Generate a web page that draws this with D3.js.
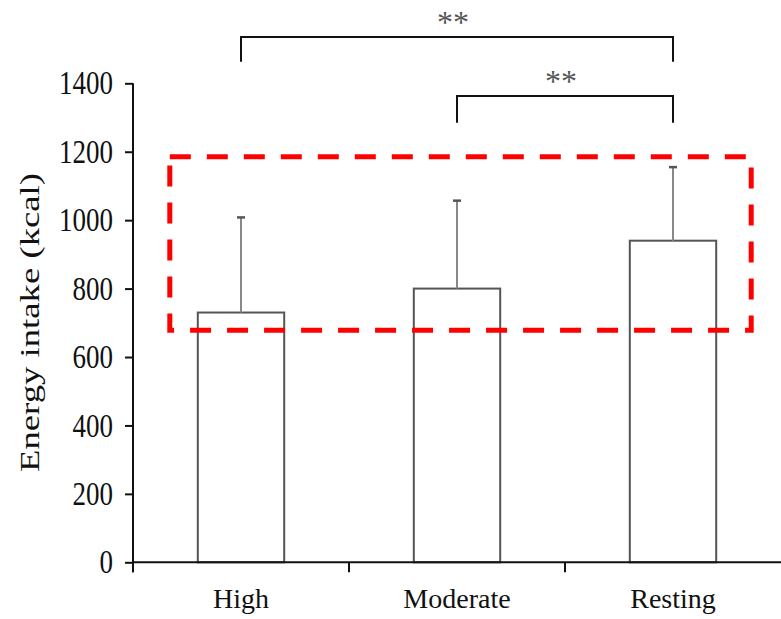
<!DOCTYPE html>
<html>
<head>
<meta charset="utf-8">
<script src="https://cdn.jsdelivr.net/npm/d3@7/dist/d3.min.js"></script>
<style>
  html, body { margin: 0; padding: 0; background: #fff; }
  svg text { font-family: "Liberation Serif", "Times New Roman", serif; fill: #111; }
</style>
</head>
<body>
<svg id="chart" width="781" height="619"></svg>
<script>
// data
const categories = ["High", "Moderate", "Resting"];
const means = [730, 800, 940];
const sds = [278, 257, 215];
const yTicks = [0, 200, 400, 600, 800, 1000, 1200, 1400];

// significance brackets (level in kcal units, above the axis top)
const brackets = [
  { from: "High", to: "Resting", level: 1535, drop: 72, label: "**" },
  { from: "Moderate", to: "Resting", level: 1363, drop: 78, label: "**" }
];

// red dashed highlight box
const highlight = { from: "High", to: "Resting", low: 678, high: 1185 };

const svg = d3.select("#chart");
const plotLeft = 133, plotRight = 781, plotBottom = 562.3, plotTop = 83.3;

const x = d3.scaleBand()
  .domain(categories)
  .range([plotLeft, plotRight])
  .paddingInner(0.6)
  .paddingOuter(0.3);

const y = d3.scaleLinear()
  .domain([0, 1400])
  .range([plotBottom, plotTop]);

const data = categories.map((c, i) => ({ cat: c, mean: means[i], sd: sds[i] }));

// bars
svg.append("g")
  .selectAll("rect")
  .data(data)
  .join("rect")
  .attr("x", d => x(d.cat))
  .attr("y", d => y(d.mean))
  .attr("width", x.bandwidth())
  .attr("height", d => y(0) - y(d.mean))
  .attr("fill", "#fff")
  .attr("stroke", "#555")
  .attr("stroke-width", 2);

// error bars (upper only)
const err = svg.append("g");
err.selectAll("line.stem")
  .data(data)
  .join("line")
  .attr("class", "stem")
  .attr("x1", d => x(d.cat) + x.bandwidth() / 2)
  .attr("x2", d => x(d.cat) + x.bandwidth() / 2)
  .attr("y1", d => y(d.mean))
  .attr("y2", d => y(d.mean + d.sd))
  .attr("stroke", "#888")
  .attr("stroke-width", 2);
err.selectAll("line.cap")
  .data(data)
  .join("line")
  .attr("class", "cap")
  .attr("x1", d => x(d.cat) + x.bandwidth() / 2 - 4)
  .attr("x2", d => x(d.cat) + x.bandwidth() / 2 + 4)
  .attr("y1", d => y(d.mean + d.sd))
  .attr("y2", d => y(d.mean + d.sd))
  .attr("stroke", "#555")
  .attr("stroke-width", 2.5);

// y axis
const yAxis = svg.append("g")
  .attr("transform", `translate(${plotLeft},0)`)
  .call(d3.axisLeft(y).tickValues(yTicks).tickSize(8).tickPadding(12).tickFormat(d3.format("d")));
yAxis.select(".domain").remove();
yAxis.selectAll(".tick line").attr("stroke", "#111").attr("stroke-width", 2);
yAxis.selectAll(".tick text")
  .attr("font-size", 33)
  .attr("textLength", d => String(d).length * 13.5)
  .attr("lengthAdjust", "spacingAndGlyphs");

svg.append("line")
  .attr("x1", plotLeft).attr("x2", plotLeft)
  .attr("y1", y(1400)).attr("y2", plotBottom + 10)
  .attr("stroke", "#111").attr("stroke-width", 2);

// x axis
svg.append("line")
  .attr("x1", plotLeft).attr("x2", plotRight)
  .attr("y1", plotBottom).attr("y2", plotBottom)
  .attr("stroke", "#111").attr("stroke-width", 2);

const bounds = d3.range(categories.length).map(i => x.range()[0] + i * x.step());
svg.append("g")
  .selectAll("line")
  .data(bounds)
  .join("line")
  .attr("x1", d => d).attr("x2", d => d)
  .attr("y1", plotBottom).attr("y2", plotBottom + 10)
  .attr("stroke", "#111").attr("stroke-width", 2);

svg.append("g")
  .selectAll("text")
  .data(categories)
  .join("text")
  .attr("x", d => x(d) + x.bandwidth() / 2)
  .attr("y", 608)
  .attr("text-anchor", "middle")
  .attr("font-size", 28)
  .text(d => d);

// y label
svg.append("text")
  .attr("transform", `translate(39,${(173 + 472) / 2}) rotate(-90)`)
  .attr("text-anchor", "middle")
  .attr("font-size", 27)
  .attr("textLength", 299)
  .attr("lengthAdjust", "spacingAndGlyphs")
  .text("Energy intake (kcal)");

// brackets
const bx = c => x(c) + x.bandwidth() / 2;
const bg = svg.append("g");
bg.selectAll("path")
  .data(brackets)
  .join("path")
  .attr("d", d => {
    const yl = y(d.level), yb = y(d.level - d.drop);
    return `M${bx(d.from)},${yb}V${yl}H${bx(d.to)}V${yb}`;
  })
  .attr("fill", "none")
  .attr("stroke", "#111")
  .attr("stroke-width", 2);
bg.selectAll("text")
  .data(brackets)
  .join("text")
  .attr("x", d => (bx(d.from) + bx(d.to)) / 2 - 4)
  .attr("y", d => y(d.level) - 4)
  .attr("text-anchor", "middle")
  .attr("font-size", 32)
  .style("fill", "#555")
  .text(d => d.label);

// highlight box
svg.append("rect")
  .attr("x", x(highlight.from) - 28)
  .attr("y", y(highlight.high))
  .attr("width", (x(highlight.to) + x.bandwidth() + 35) - (x(highlight.from) - 28))
  .attr("height", y(highlight.low) - y(highlight.high))
  .attr("fill", "none")
  .attr("stroke", "#ff0000")
  .attr("stroke-width", 5)
  .attr("stroke-dasharray", "21 16");
</script>
</body>
</html>
